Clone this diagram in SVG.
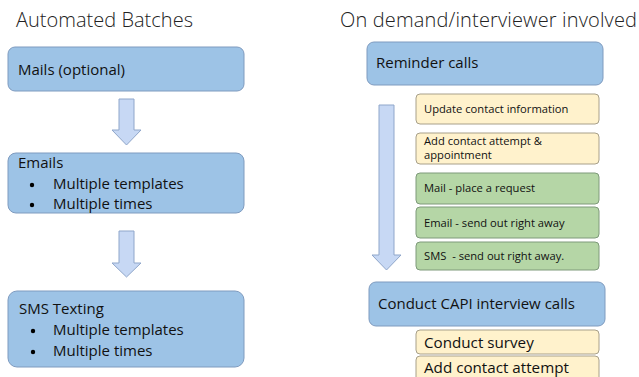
<svg xmlns="http://www.w3.org/2000/svg" width="639" height="377" viewBox="0 0 639 377">
<style>
text{font-family:"Open Sans","Liberation Sans",sans-serif;fill:#111}
.title{font-size:20px;font-weight:300;fill:#222}
.blue{fill:#9DC3E6;stroke:#7F9BBF;stroke-width:1}
.arrow{fill:#C7D8F4;stroke:#8FA6CA;stroke-width:1}
.yellow{fill:#FFF2CC;stroke:#A8A08A;stroke-width:1}
.green{fill:#B5D6A6;stroke:#7E9A7A;stroke-width:1}
.t14{font-size:15px}
.t11{font-size:11.2px}
.t15{font-size:15px}
.t15b{font-size:15.2px}
</style>
<rect width="639" height="377" fill="#fff"/>
<text class="title" x="16" y="27" textLength="177">Automated Batches</text>
<text class="title" x="340" y="27" textLength="297">On demand/interviewer involved</text>
<g id="connectors">
<path class="arrow" d="M119,99 H134 V130 H141 L126.5,145 L112,130 H119 Z"/>
<path class="arrow" d="M119,231 H134 V263 H141 L126.5,277 L112,263 H119 Z"/>
<path class="arrow" d="M379,105 H394 V255 H401 L386.5,270 L372,255 H379 Z"/>
</g>
<g id="mails"><rect class="blue" x="8" y="47" width="236" height="44" rx="7"/><text class="t14" x="18" y="75">Mails (optional)</text></g>
<g id="emails"><rect class="blue" x="8" y="153" width="236" height="60" rx="8"/>
<text class="t14" x="18" y="168">Emails</text>
<circle cx="32" cy="185" r="2.2"/><text class="t14" x="53" y="189">Multiple templates</text>
<circle cx="32" cy="205" r="2.2"/><text class="t14" x="53" y="209">Multiple times</text></g>
<g id="sms"><rect class="blue" x="8" y="291" width="236" height="76" rx="9"/>
<text class="t14" x="19" y="314">SMS Texting</text>
<circle cx="33" cy="331" r="2.2"/><text class="t14" x="53" y="335">Multiple templates</text>
<circle cx="33" cy="352" r="2.2"/><text class="t14" x="53" y="356">Multiple times</text></g>
<g id="reminder"><rect class="blue" x="367" y="42" width="236" height="43" rx="7"/><text class="t14" x="376" y="68">Reminder calls</text></g>
<g id="update"><rect class="yellow" x="416" y="94" width="183" height="30" rx="4"/><text class="t11" x="424" y="113">Update contact information</text></g>
<g id="attempt"><rect class="yellow" x="416" y="133" width="183" height="31" rx="4"/><text class="t11" x="424" y="145">Add contact attempt &amp;</text><text class="t11" x="424" y="159">appointment</text></g>
<g id="mailreq"><rect class="green" x="416" y="173" width="183" height="31" rx="4"/><text class="t11" x="424" y="192">Mail - place a request</text></g>
<g id="emailsend"><rect class="green" x="416" y="207" width="183" height="31" rx="4"/><text class="t11" x="424" y="227">Email - send out right away</text></g>
<g id="smssend"><rect class="green" x="416" y="242" width="183" height="28" rx="4"/><text class="t11" x="424" y="260" xml:space="preserve">SMS  - send out right away.</text></g>
<g id="capi"><rect class="blue" x="369" y="282" width="236" height="44" rx="7"/><text class="t15" x="378" y="309">Conduct CAPI interview calls</text></g>
<g id="survey"><rect class="yellow" x="416" y="330" width="183" height="24" rx="4"/><text class="t15b" x="424" y="348">Conduct survey</text></g>
<g id="attempt2"><rect class="yellow" x="416" y="356" width="183" height="30" rx="4"/><text class="t15b" x="424" y="373">Add contact attempt</text></g>
</svg>
